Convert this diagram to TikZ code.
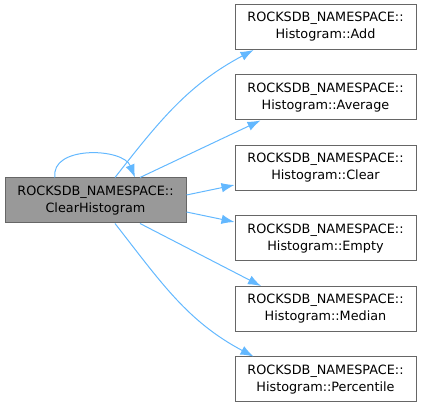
\documentclass[tikz,border=0pt]{standalone}
\usepackage{fontspec}
\setmainfont{DejaVu Sans}
\usetikzlibrary{arrows.meta, positioning}

\definecolor{edgeblue}{HTML}{63B8FF}
\definecolor{boxline}{HTML}{666666}
\definecolor{curfill}{HTML}{999999}

\begin{document}
\begin{tikzpicture}[
  x=1pt, y=1pt, node distance=24.5pt,
  font=\fontsize{12.8}{17}\selectfont,
  fn/.style     ={rectangle, draw=boxline, line width=1pt, fill=white,
                  minimum width=181pt, minimum height=45pt, inner sep=0pt, align=center},
  current/.style={fn, fill=curfill},
  edge/.style   ={-{Latex[length=13pt,width=9.5pt]}, draw=edgeblue, line width=1pt},
]
  \useasboundingbox (0,0) rectangle (421,402);
  \node[current] (clr)  at (95.5,201.5) {ROCKSDB\_NAMESPACE::\\ClearHistogram};
  \node[fn]      (add)  at (325.5,375)  {ROCKSDB\_NAMESPACE::\\Histogram::Add};
  \node[fn, below=of add] (avg)  {ROCKSDB\_NAMESPACE::\\Histogram::Average};
  \node[fn, below=of avg] (clear){ROCKSDB\_NAMESPACE::\\Histogram::Clear};
  \node[fn, below=of clear](empty){ROCKSDB\_NAMESPACE::\\Histogram::Empty};
  \node[fn, below=of empty](med) {ROCKSDB\_NAMESPACE::\\Histogram::Median};
  \node[fn, below=of med] (pct)  {ROCKSDB\_NAMESPACE::\\Histogram::Percentile};
  % self call
  \draw[edge] ([xshift=-40.5pt]clr.north) .. controls +(-5,32) and +(-12,30) .. ([xshift=39.5pt]clr.north);
  \draw[edge] ([xshift=19.5pt]clr.north) to[out=52, in=-152] ([xshift=-72pt]add.south);
  \draw[edge] ([xshift=44.5pt]clr.north) -- ([xshift=-65pt]avg.south);
  \draw[edge] ([yshift=5.5pt]clr.east) -- ([yshift=-17pt]clear.west);
  \draw[edge] ([yshift=-11.5pt]clr.east) -- ([yshift=16.5pt]empty.west);
  \draw[edge] ([xshift=44.5pt]clr.south) -- ([xshift=-64.5pt]med.north);
  \draw[edge] ([xshift=19.5pt]clr.south) to[out=-52, in=152] ([xshift=-72pt]pct.north);
\end{tikzpicture}
\end{document}
